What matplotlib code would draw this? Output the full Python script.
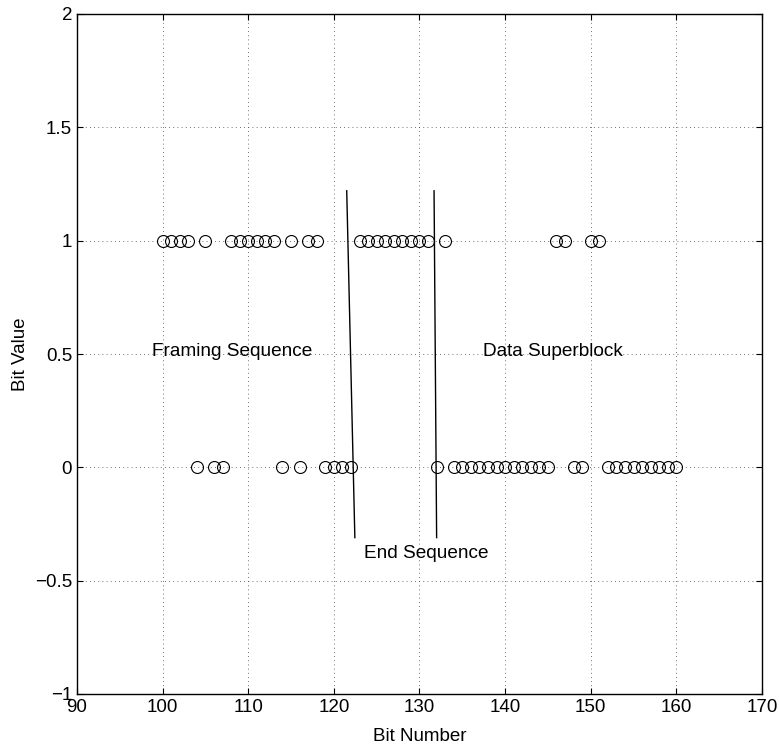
import numpy as np
import matplotlib
matplotlib.use("Agg")
import matplotlib.pyplot as plt

plt.rcParams['font.family'] = ['Liberation Sans', 'DejaVu Sans']

# bit positions and their values
bit_numbers = list(range(100, 161))
ones = [100, 101, 102, 103, 105, 108, 109, 110, 111, 112, 113, 115, 117, 118,
        123, 124, 125, 126, 127, 128, 129, 130, 131, 133, 146, 147, 150, 151]
bit_values = [1 if b in ones else 0 for b in bit_numbers]

# marker lines separating the sequences
line1_x = [121.5, 122.45]
line1_y = [1.22, -0.31]
line2_x = [131.7, 132.0]
line2_y = [1.22, -0.31]

labels = ["Framing Sequence", "Data Superblock", "End Sequence"]
label_x = [98.8, 137.4, 123.5]
label_y = [0.51, 0.51, -0.38]

fig = plt.figure(figsize=(7.79, 7.49), dpi=100)
ax = fig.add_axes([77 / 779, 1 - 694 / 749, (762 - 77) / 779, (694 - 14) / 749])

ax.plot(bit_numbers, bit_values, 'o', mfc='none', mec='black', ms=8.6, mew=0.8)
ax.plot(line1_x, line1_y, 'k-', lw=1.0)
ax.plot(line2_x, line2_y, 'k-', lw=1.0)

for txt, tx, ty in zip(labels, label_x, label_y):
    ax.text(tx, ty, txt, ha='left', va='center', fontsize=13.7)

ax.set_xlim(90, 170)
ax.set_ylim(-1, 2)
ax.set_xticks(range(90, 171, 10))
ax.set_yticks([-1, -0.5, 0, 0.5, 1, 1.5, 2])
ax.set_yticklabels(['\u22121', '\u22120.5', '0', '0.5', '1', '1.5', '2'])
ax.tick_params(direction='in', labelsize=13.5, length=4, top=True, right=True)
ax.grid(True, linestyle=(0, (1, 4)), color='#444444', lw=0.6)
for s in ax.spines.values():
    s.set_linewidth(1.0)

ax.set_xlabel("Bit Number", fontsize=13.5, labelpad=9)
ax.set_ylabel("Bit Value", fontsize=13.5, labelpad=4)

fig.savefig("out.png", dpi=100)
